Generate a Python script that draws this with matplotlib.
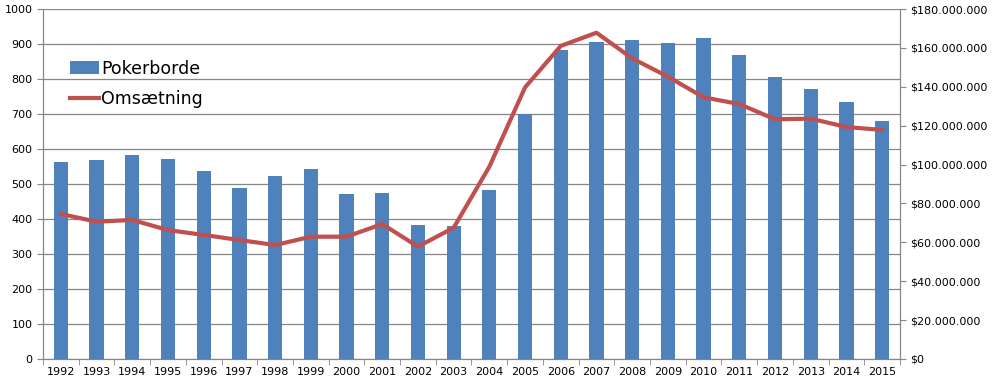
import matplotlib.pyplot as plt
from matplotlib.ticker import FuncFormatter, MultipleLocator

years = list(range(1992, 2016))
tables = [563, 569, 583, 571, 537, 489, 523, 543, 471, 474, 383, 380,
          483, 700, 883, 906, 911, 903, 917, 869, 806, 771, 734, 680]
revenue = [74.6, 70.6, 71.5, 66.3, 63.8, 61.2, 58.6, 62.9, 62.9, 69.4, 57.8, 67.5,
           98.9, 139.7, 161.0, 167.8, 154.6, 145.2, 134.6, 131.1, 123.3, 123.6, 119.3, 117.8]

fig = plt.figure(figsize=(9.94, 3.89), dpi=100)
ax = fig.add_axes([43 / 994, 30 / 389, 857 / 994, 350 / 389])
ax2 = ax.twinx()

x = list(range(len(years)))
bars = ax.bar(x, tables, width=0.4, color='#4F81BD', zorder=3, label='Pokerborde')
line, = ax2.plot(x, [v * 1e6 for v in revenue], color='#C0504D', lw=3.0,
                 solid_joinstyle='round', label='Omsætning', zorder=4)

ax.set_xlim(-0.5, len(years) - 0.5)
ax.set_ylim(0, 1000)
ax2.set_ylim(0, 180e6)
ax.yaxis.set_major_locator(MultipleLocator(100))
ax2.yaxis.set_major_locator(MultipleLocator(20e6))
ax2.yaxis.set_major_formatter(FuncFormatter(
    lambda v, p: '$' + f'{int(v):,}'.replace(',', '.')))

ax.set_xticks(x)
ax.set_xticklabels([str(y) for y in years])
ax.set_xticks([i - 0.5 for i in range(len(years) + 1)], minor=True)
ax.tick_params(axis='x', which='major', length=0, labelsize=8, pad=6)
ax.tick_params(axis='x', which='minor', length=4, color='#868686', direction='out')
ax.tick_params(axis='y', labelsize=8, length=4, color='#868686')
ax2.tick_params(axis='y', labelsize=8, length=4, color='#868686')

ax.grid(axis='y', color='#868686', lw=0.9, zorder=0)
for a in (ax, ax2):
    a.spines['top'].set_visible(False)
    for s in ('left', 'right', 'bottom'):
        a.spines[s].set_color('#868686')

ax2.set_zorder(ax.get_zorder() + 1)
ax2.patch.set_visible(False)
ax.legend([bars, line], ['Pokerborde', 'Omsætning'], loc='upper left',
          bbox_to_anchor=(0.013, 0.9), frameon=False, fontsize=12.5,
          handlelength=1.7, handletextpad=0.1, labelspacing=0.7)

fig.savefig('out.png')
